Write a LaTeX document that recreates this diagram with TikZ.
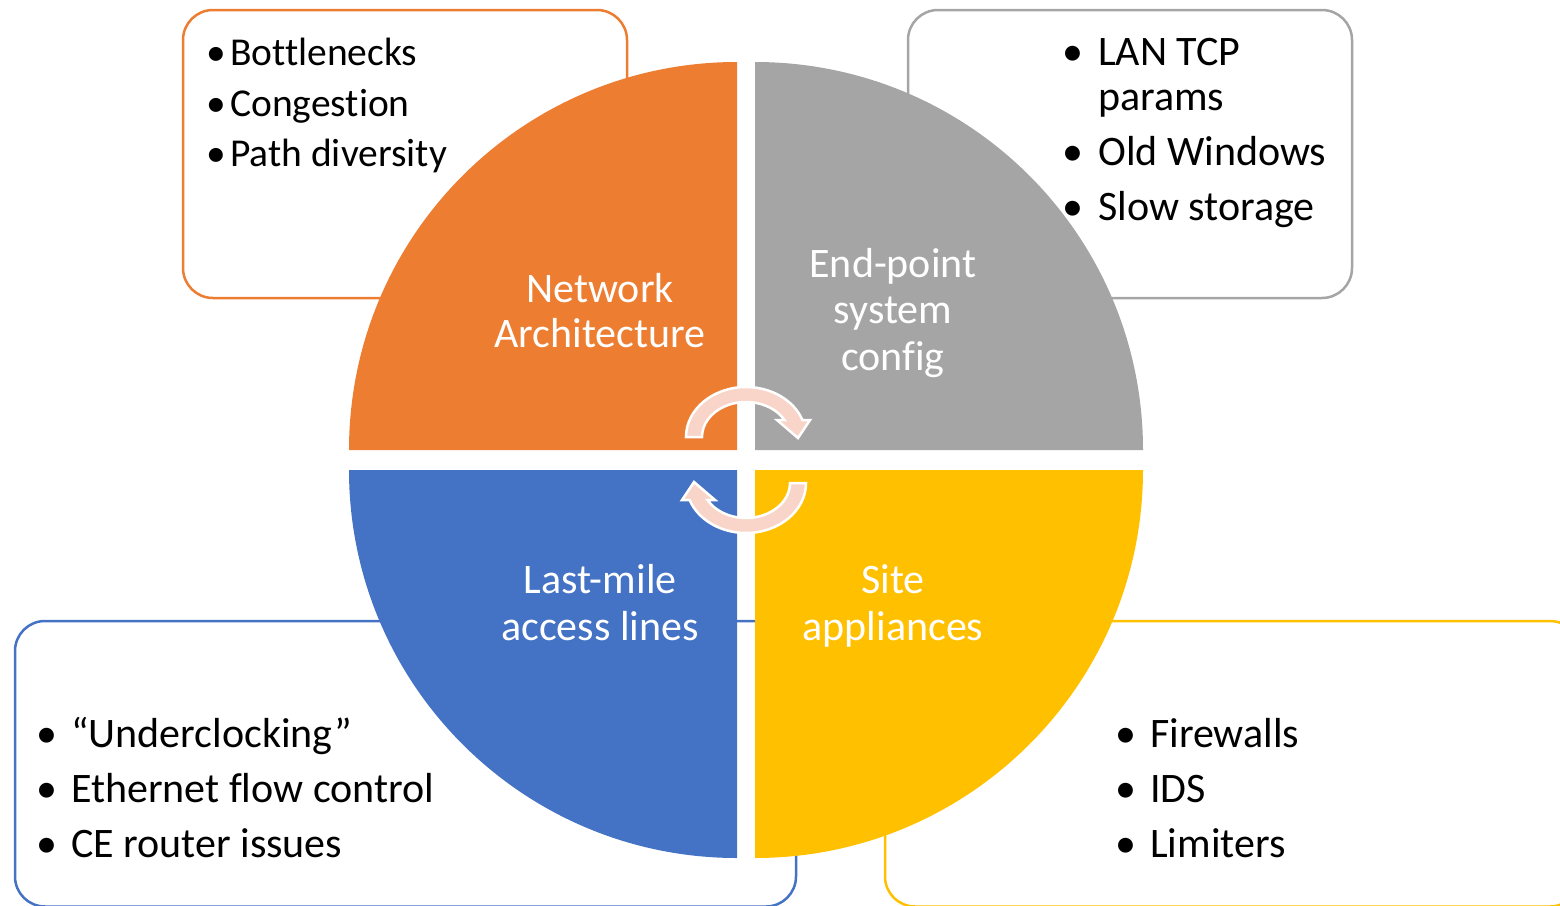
\documentclass[tikz,border=0pt]{standalone}
\usepackage{fontspec}
\setmainfont[Ligatures={NoCommon}]{Carlito}
\definecolor{cOrange}{HTML}{ED7D31}
\definecolor{cGray}{HTML}{A5A5A5}
\definecolor{cBlue}{HTML}{4472C4}
\definecolor{cYellow}{HTML}{FFC000}
\definecolor{cArrow}{HTML}{F8D5C8}
\tikzset{
  listbox/.style={line width=2.5pt, rounded corners=30pt},
  quad/.style={draw=none},
  cyclearrow/.style={fill=cArrow, draw=white, line width=2.5pt, line join=miter},
  tlitem/.style={anchor=base west, inner sep=0pt, font=\fontsize{39.5}{45}\selectfont},
  item/.style={anchor=base west, inner sep=0pt, font=\fontsize{42}{47}\selectfont},
  qlabel/.style={anchor=base, inner sep=0pt, text=white, font=\fontsize{42}{47}\selectfont}
}
\begin{document}
\begin{tikzpicture}[x=1pt,y=-1pt]
\useasboundingbox (0,0) rectangle (1560,905);
\clip (0,0) rectangle (1560,905);
% list boxes (behind)
\draw[listbox, cOrange] (183,10) rectangle (627,298);
\draw[listbox, cGray] (908,10) rectangle (1352,298);
\draw[listbox, cBlue] (15,621) rectangle (796,906.5);
\draw[listbox, cYellow] (885,621) rectangle (1580,906.5);
% quadrants
\fill[quad, cOrange] (737,450) -- ++(-388,0) arc[start angle=180, end angle=270, radius=388] -- cycle;
\fill[quad, cGray] (755,450) -- ++(0,-388) arc[start angle=270, end angle=360, radius=388] -- cycle;
\fill[quad, cBlue] (737,470) -- ++(-388,0) arc[start angle=180, end angle=90, radius=388] -- cycle;
\fill[quad, cYellow] (755,470) -- ++(388,0) arc[start angle=0, end angle=90, radius=388] -- cycle;
% cycle arrows
\begin{scope}[shift={(746,437)}, yscale=-1]
\filldraw[cyclearrow] (-60,0) arc[start angle=180, end angle=19.88, x radius=60, y radius=50]
  -- (64,17) -- (52,-1) -- (31,17) -- (38.46,17)
  arc[start angle=29.06, end angle=180, x radius=44, y radius=35] -- cycle;
\end{scope}
\begin{scope}[shift={(746,483)}, yscale=-1, rotate=180]
\filldraw[cyclearrow] (-60,0) arc[start angle=180, end angle=19.88, x radius=60, y radius=50]
  -- (64,17) -- (52,-1) -- (31,17) -- (38.46,17)
  arc[start angle=29.06, end angle=180, x radius=44, y radius=35] -- cycle;
\end{scope}
% quadrant labels
\node[qlabel] (na1) at (600,302) {Network};
\node[qlabel] (na2) at (600,347) {Architecture};
\node[qlabel] (ep1) at (893,277) {End-point};
\node[qlabel] (ep2) at (893,323) {system};
\node[qlabel] (ep3) at (893,370) {config};
\node[qlabel] (lm1) at (600,593) {Last-mile};
\node[qlabel] (lm2) at (600,640) {access lines};
\node[qlabel] (sa1) at (893,593) {Site};
\node[qlabel] (sa2) at (893,640) {appliances};
% top-left list
\node[tlitem] (tlb1) at (206,65) {•};
\node[tlitem] (tlt1) at (230,65) {Bottlenecks};
\node[tlitem] (tlb2) at (206,116) {•};
\node[tlitem] (tlt2) at (230,116) {Congestion};
\node[tlitem] (tlb3) at (206,166) {•};
\node[tlitem] (tlt3) at (230,166) {Path diversity};
% top-right list
\node[item] (trb1) at (1062,65) {•};
\node[item] (trt1) at (1098,65) {LAN TCP};
\node[item] (trt1b) at (1098,110) {params};
\node[item] (trb2) at (1062,165) {•};
\node[item] (trt2) at (1098,165) {Old Windows};
\node[item] (trb3) at (1062,220) {•};
\node[item] (trt3) at (1098,220) {Slow storage};
% bottom-left list
\node[item] (blb1) at (36,747) {•};
\node[item] (blt1) at (71,747) {“Underclocking”};
\node[item] (blb2) at (36,802) {•};
\node[item] (blt2) at (71,802) {Ethernet flow control};
\node[item] (blb3) at (36,857) {•};
\node[item] (blt3) at (71,857) {CE router issues};
% bottom-right list
\node[item] (brb1) at (1115,747) {•};
\node[item] (brt1) at (1150,747) {Firewalls};
\node[item] (brb2) at (1115,802) {•};
\node[item] (brt2) at (1150,802) {IDS};
\node[item] (brb3) at (1115,857) {•};
\node[item] (brt3) at (1150,857) {Limiters};
\end{tikzpicture}
\end{document}
